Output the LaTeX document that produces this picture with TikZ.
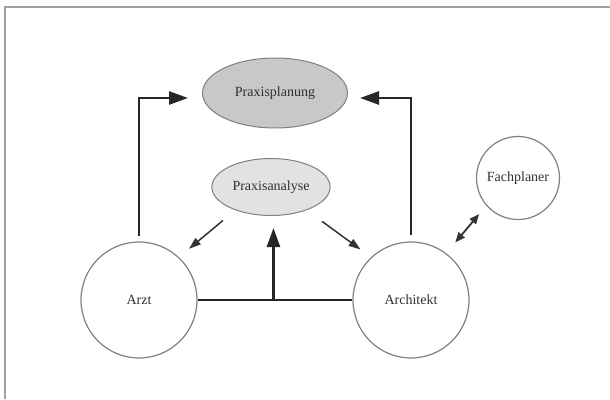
\documentclass[tikz,border=0pt]{standalone}
\usepackage{fontspec}
\setmainfont{Liberation Serif}
\usetikzlibrary{arrows.meta,shapes.geometric,calc}
\definecolor{framegray}{HTML}{A0A0A0}
\definecolor{linegray}{HTML}{808080}
\definecolor{darkfill}{HTML}{C8C8C8}
\definecolor{lightfill}{HTML}{E2E2E2}
\definecolor{txt}{HTML}{303030}
\tikzset{
  lbl/.style={font=\fontsize{14}{16}\selectfont, text=txt},
  person/.style={circle, draw=linegray, line width=1.2pt, fill=white, lbl},
  goal/.style={ellipse, draw=linegray, line width=1pt, lbl},
  thickarrow/.style={draw=black!85, line width=2.6pt, -{Triangle[length=19pt,width=13pt]}},
  thinarrow/.style={draw=black!80, line width=1.5pt, -{Triangle[length=12pt,width=8pt]}},
  duoarrow/.style={draw=black!80, line width=1.8pt, {Triangle[length=10pt,width=8pt]}-{Triangle[length=10pt,width=8pt]}},
  bar/.style={draw=black!85, line width=2.6pt}
}
\begin{document}
\begin{tikzpicture}[x=1pt,y=-1pt]
\useasboundingbox (0,0) rectangle (610,399);
\draw[framegray, line width=1.5pt] (5,399) -- (5,7) -- (610,7);

\node[goal, fill=darkfill, minimum width=145pt, minimum height=70pt] (plan) at (275,93) {Praxisplanung};
\node[goal, fill=lightfill, minimum width=116pt, minimum height=57pt] (ana) at (271,187) {Praxisanalyse};
\node[person, minimum size=83pt] (fach) at (518,178) {Fachplaner};
\node[person, minimum size=116pt] (arzt) at (139,300) {Arzt};
\node[person, minimum size=116pt] (arch) at (411,300) {Architekt};

\draw[thickarrow, shorten <=5pt, shorten >=14pt] (arzt.north) |- ($(plan.west)+(0,5)$);
\draw[thickarrow, shorten <=6pt, shorten >=12pt] (arch.north) |- ($(plan.east)+(0,5)$);

\draw[bar] (arzt.east) -- (arch.west);
\coordinate (mid) at ($(arzt.east)!0.49!(arch.west)$);
\draw[thickarrow, shorten >=12pt] (mid) -- (mid |- ana.south);

\draw[thinarrow, shorten <=16pt, shorten >=13pt] (ana.213) -- (arzt.47);
\draw[thinarrow, shorten <=19pt, shorten >=13pt] (ana.327) -- (arch.133);
\draw[duoarrow, shorten <=14pt, shorten >=11pt] (arch.53) -- (fach.221);
\end{tikzpicture}
\end{document}
